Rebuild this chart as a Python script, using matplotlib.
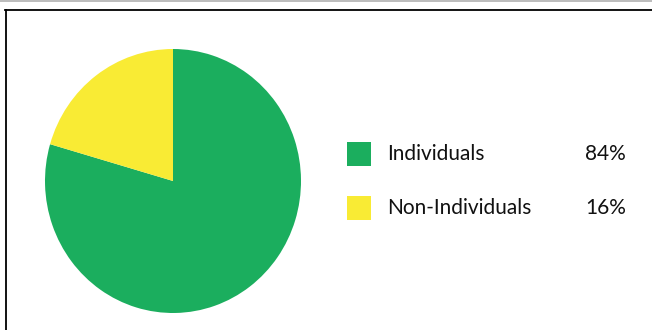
import matplotlib
matplotlib.use("Agg")
import matplotlib.pyplot as plt
from matplotlib.lines import Line2D
from matplotlib.patches import Rectangle

categories = ["Individuals", "Non-Individuals"]
shares = [79.5, 20.5]          # wedge sizes as drawn in the picture
share_labels = ["84%", "16%"]  # printed values
colors = ["#1BAE5E", "#F9EB34"]

W, H = 652, 330
fig = plt.figure(figsize=(W / 100, H / 100), dpi=100)
plt.rcParams['font.family'] = ['Lato', 'DejaVu Sans']

def fx(px):
    return px / W

def fy(py):
    return 1 - py / H

# frame lines
fig.add_artist(Line2D([0, 1], [fy(0.5), fy(0.5)], color="#b0b0b0", lw=1.2, transform=fig.transFigure))
fig.add_artist(Line2D([fx(5), 1], [fy(9.5), fy(9.5)], color="black", lw=1.3, transform=fig.transFigure))
fig.add_artist(Line2D([fx(5.5), fx(5.5)], [fy(9.5), 0], color="black", lw=1.3, transform=fig.transFigure))

# pie
ax = fig.add_axes([fx(45), fy(313), 256 / W, 264 / H])
ax.pie(shares, colors=colors, startangle=90, counterclock=False,
       wedgeprops=dict(linewidth=0))
ax.set_aspect("auto")
ax.set_xlim(-1, 1)
ax.set_ylim(-1, 1)
ax.axis("off")

# legend
rows_y = [154, 208]
for cat, lab, col, yc in zip(categories, share_labels, colors, rows_y):
    fig.add_artist(Rectangle((fx(347), fy(yc + 12)), 24 / W, 24 / H,
                             facecolor=col, edgecolor="none", transform=fig.transFigure))
    fig.text(fx(387), fy(yc), cat, fontsize=15, va="center", ha="left", color="#111111")
    fig.text(fx(626), fy(yc), lab, fontsize=15, va="center", ha="right", color="#111111")

fig.savefig("out.png", dpi=100)
